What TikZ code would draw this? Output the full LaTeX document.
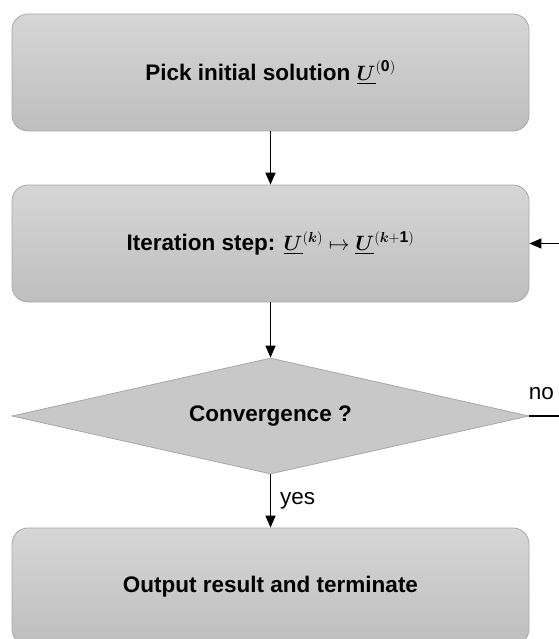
\documentclass[tikz,border=0pt]{standalone}
\usepackage{amsmath}
\usepackage{bm}
\usepackage{fontspec}
\setmainfont{Liberation Sans}
\usetikzlibrary{shapes.geometric,arrows.meta}
\definecolor{boxtop}{RGB}{214,214,214}
\definecolor{boxbot}{RGB}{190,190,190}
\definecolor{boxline}{RGB}{168,168,168}
\definecolor{diafill}{RGB}{200,200,200}
\tikzset{
  procbox/.style={rectangle, rounded corners=16pt, draw=boxline, line width=0.8pt,
    top color=boxtop, bottom color=boxbot, minimum width=517pt, minimum height=117pt,
    inner sep=0pt, font=\fontsize{22.5}{27}\selectfont\bfseries},
  decision/.style={diamond, draw=boxline, line width=0.8pt, fill=diafill, aspect=4.45,
    minimum width=517pt, minimum height=116pt, inner sep=0pt,
    font=\fontsize{22.5}{27}\selectfont\bfseries},
  flow/.style={line width=1.4pt, -{Triangle[width=10pt,length=12pt]}},
  lbl/.style={font=\fontsize{22.5}{27}\selectfont, inner sep=0pt}
}
\newcommand{\uvec}{\underline{\bm{U}}}
\begin{document}
\begin{tikzpicture}[x=1pt,y=-1pt]
\useasboundingbox (0,0) rectangle (558,639);
\node[procbox] (init) at (270.5,72.5) {Pick initial solution $\uvec^{(\mathbf{0})}$};
\node[procbox] (iter) at (270.5,243.5) {Iteration step: $\uvec^{(\bm{k})}\mapsto\uvec^{(\bm{k}+\mathbf{1})}$};
\node[decision] (conv) at (270.5,416) {Convergence ?};
\node[procbox] (out) at (270.5,586.5) {Output result and terminate};
\coordinate (loopa) at (570,416);
\coordinate (loopb) at (570,243.5);
\draw[flow] (init) -- (iter);
\draw[flow] (iter) -- (conv);
\draw[flow] (conv) -- node[lbl, right, xshift=9pt] {yes} (out);
\draw[flow] (conv.east) -- (loopa) -- (loopb) -- (iter.east);
\node[lbl] (nolbl) at ([xshift=12pt,yshift=22pt]conv.east) {no};
\end{tikzpicture}
\end{document}
